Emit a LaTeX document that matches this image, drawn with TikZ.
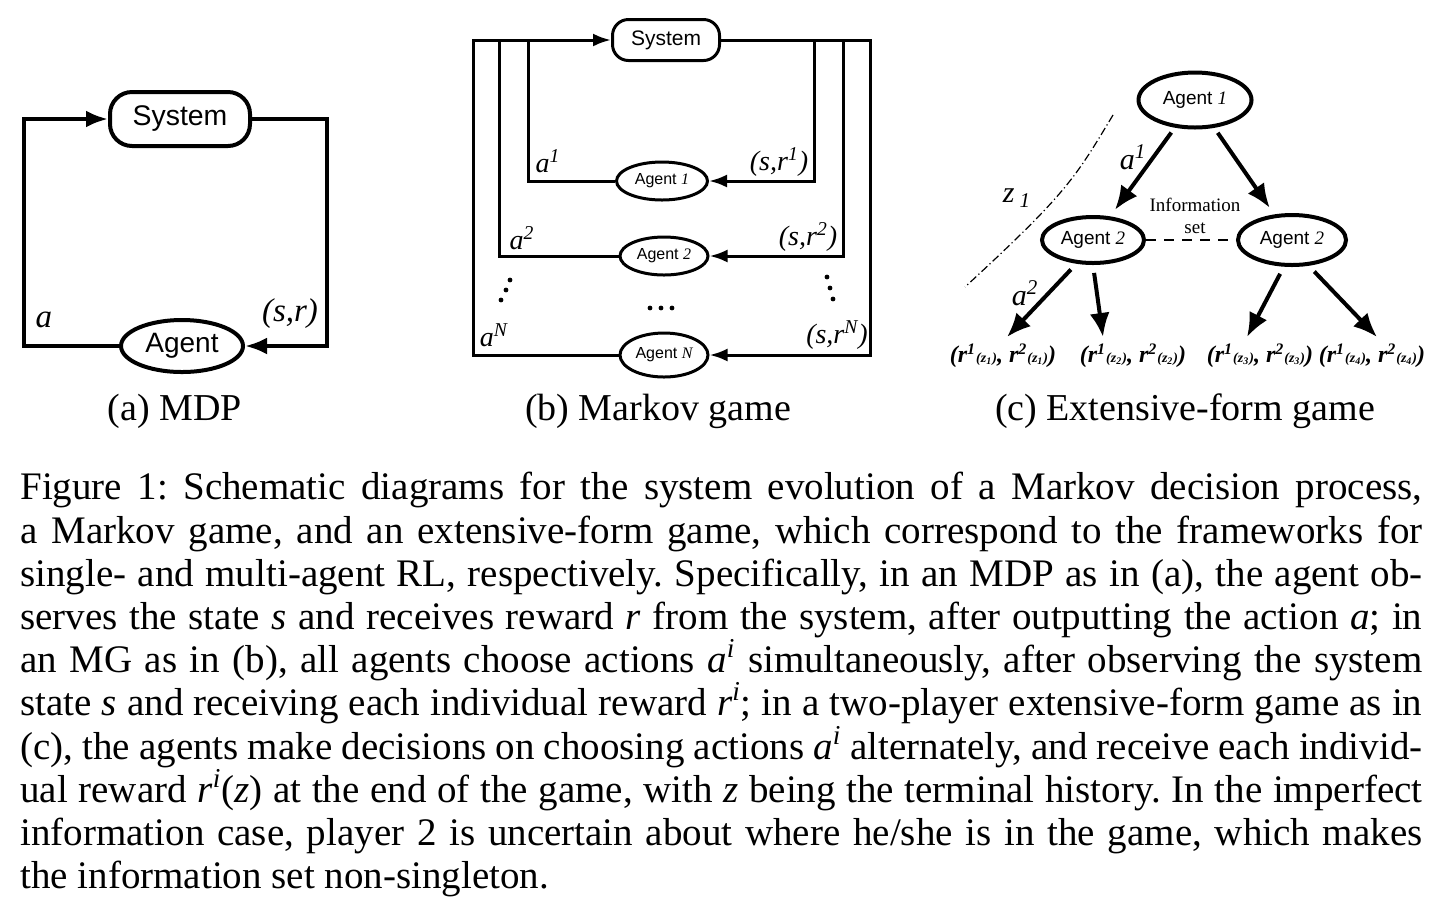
\documentclass[tikz,border=0pt]{standalone}
\usepackage{fontspec}
\setmainfont{Liberation Serif}
\setsansfont{Liberation Sans}
\usetikzlibrary{shapes.geometric, arrows.meta, positioning, calc}
\frenchspacing

\begin{document}
\begin{tikzpicture}[x=0.5pt, y=-0.5pt,
  sysbox/.style={rectangle, draw, inner sep=0pt, font=\sffamily},
  agent/.style={ellipse, draw, inner sep=0pt, font=\sffamily},
  lbl/.style={inner sep=0pt, font=\itshape},
  flowA/.style={line width=2pt, -{Latex[length=11pt, width=8.5pt]}},
  flowB/.style={line width=1.5pt, -{Latex[length=9pt, width=6.5pt]}},
  lineB/.style={line width=1.5pt},
  flowC/.style={line width=2pt, -{Latex[length=12pt, width=10pt]}},
  leaf/.style={inner xsep=0pt, inner ysep=3pt, font=\fontsize{12}{14}\selectfont\bfseries\itshape},
  subcap/.style={inner sep=0pt, font=\fontsize{19}{22}\selectfont}
]
\useasboundingbox (0,0) rectangle (1434,896);

% (a) MDP
\node[sysbox, line width=2pt, rounded corners=11pt, minimum width=70pt, minimum height=27pt,
  font=\sffamily\fontsize{14.2}{16}\selectfont] (sysa) at (180,119) {System};
\node[agent, line width=2pt, minimum width=61pt, minimum height=26pt,
  font=\sffamily\fontsize{14}{16}\selectfont] (agta) at (182,346) {Agent};
\coordinate (la) at (24,0);
\coordinate (ra) at (327,0);
\draw[flowA] (agta.west) -| (la |- sysa.west) -- (sysa.west);
\draw[flowA] (sysa.east) -| (ra |- agta.east) -- (agta.east);
\node[lbl, font=\fontsize{16.5}{18}\selectfont\itshape] (acta) at (44,320) {a};
\node[lbl, font=\fontsize{16.5}{18}\selectfont\itshape] (obsa) at (290,314) {(s,r)};
\node[subcap] (capa) at (175,411) {(a) MDP};

% (b) Markov game
\node[sysbox, line width=1.5pt, rounded corners=8pt, minimum width=53.5pt, minimum height=20.5pt,
  font=\sffamily\fontsize{10.5}{12}\selectfont] (sysb) at (666,40) {System};
\node[agent, line width=1.5pt, minimum width=45.5pt, minimum height=19pt,
  font=\sffamily\fontsize{8}{10}\selectfont] (ag1) at (662,181) {Agent {\rmfamily\itshape 1}};
\node[agent, line width=1.5pt, minimum width=44pt, minimum height=19pt,
  font=\sffamily\fontsize{8}{10}\selectfont] (ag2) at (664,256) {Agent {\rmfamily\itshape 2}};
\node[agent, line width=1.5pt, minimum width=44pt, minimum height=22pt,
  font=\sffamily\fontsize{8}{10}\selectfont] (agN) at (664,355) {Agent {\rmfamily\itshape N}};
\coordinate (l1) at (528,0);
\coordinate (l2) at (499,0);
\coordinate (lN) at (473,0);
\coordinate (r1) at (814,0);
\coordinate (r2) at (843,0);
\coordinate (rN) at (870,0);
\draw[flowB] (agN.west) -| (lN |- sysb.west) -- (sysb.west);
\draw[lineB] (ag2.west) -| (l2 |- sysb.west);
\draw[lineB] (ag1.west) -| (l1 |- sysb.west);
\draw[flowB] (sysb.east) -| (rN |- agN.east) -- (agN.east);
\draw[flowB] (r2 |- sysb.east) |- (ag2.east);
\draw[flowB] (r1 |- sysb.east) |- (ag1.east);
\node[lbl, font=\fontsize{14}{16}\selectfont\itshape] (act1) at (548,161) {a\textsuperscript{1}};
\node[lbl, font=\fontsize{14}{16}\selectfont\itshape] (obs1) at (779,162) {(s,r\textsuperscript{1})};
\node[lbl, font=\fontsize{14}{16}\selectfont\itshape] (act2) at (522,238) {a\textsuperscript{2}};
\node[lbl, font=\fontsize{14}{16}\selectfont\itshape] (obs2) at (808,237) {(s,r\textsuperscript{2})};
\node[lbl, font=\fontsize{14}{16}\selectfont\itshape] (actN) at (494,335) {a\textsuperscript{N}};
\node[lbl, font=\fontsize{14}{16}\selectfont\itshape] (obsN) at (837,335) {(s,r\textsuperscript{N})};
% dots
\fill (510,280) circle (1.2pt) (506,290) circle (1.2pt) (501,300) circle (1.2pt);
\fill (827,277) circle (1.2pt) (830,288) circle (1.2pt) (833,299) circle (1.2pt);
\fill (650,308) circle (1.2pt) (661,308) circle (1.2pt) (672,308) circle (1.2pt);
\node[subcap] (capb) at (658,411) {(b) Markov game};

% (c) Extensive-form game
\node[agent, line width=2pt, minimum width=56.5pt, minimum height=27.5pt,
  font=\sffamily\fontsize{9.5}{11}\selectfont] (ag1c) at (1195,100) {Agent {\rmfamily\itshape 1}};
\node[agent, line width=2pt, minimum width=51pt, minimum height=23pt,
  font=\sffamily\fontsize{9.5}{11}\selectfont] (ag2l) at (1093,240) {Agent {\rmfamily\itshape 2}};
\node[agent, line width=2pt, minimum width=54pt, minimum height=25pt,
  font=\sffamily\fontsize{9.5}{11}\selectfont] (ag2r) at (1292,240) {Agent {\rmfamily\itshape 2}};
\node[leaf, anchor=north] (leaf1) at (1003,337) {(r\textsuperscript{1}{\scriptsize(z\textsubscript{1})}, r\textsuperscript{2}{\scriptsize(z\textsubscript{1})})};
\node[leaf, anchor=north] (leaf2) at (1133,337) {(r\textsuperscript{1}{\scriptsize(z\textsubscript{2})}, r\textsuperscript{2}{\scriptsize(z\textsubscript{2})})};
\node[leaf, anchor=north] (leaf3) at (1260,337) {(r\textsuperscript{1}{\scriptsize(z\textsubscript{3})}, r\textsuperscript{2}{\scriptsize(z\textsubscript{3})})};
\node[leaf, anchor=north] (leaf4) at (1372,337) {(r\textsuperscript{1}{\scriptsize(z\textsubscript{4})}, r\textsuperscript{2}{\scriptsize(z\textsubscript{4})})};
\draw[flowC, shorten <=3pt, shorten >=4pt] (ag1c) -- (ag2l);
\draw[flowC, shorten <=3pt, shorten >=4pt] (ag1c) -- (ag2r);
\draw[line width=1.2pt, dash pattern=on 5pt off 4pt] (ag2l) -- (ag2r);
\draw[flowC, shorten <=4pt] (ag2l.235) -- ([xshift=2pt]leaf1.north);
\draw[flowC, shorten <=4pt] (ag2l.south) -- ([xshift=-15pt]leaf2.north);
\draw[flowC, shorten <=4pt] (ag2r.253) -- ([xshift=-6.5pt]leaf3.north);
\draw[flowC, shorten <=4pt] (ag2r.303) -- ([xshift=2.5pt]leaf4.north);
\node[inner sep=0pt, align=center, font=\fontsize{9.5}{11}\selectfont] (infoset) at (1195,216) {Information\\set};
\node[lbl, font=\fontsize{15}{17}\selectfont\itshape] (actc1) at (1133,157) {a\textsuperscript{1}};
\node[lbl, font=\fontsize{15}{17}\selectfont\itshape] (actc2) at (1025,293) {a\textsuperscript{2}};
\node[lbl, font=\fontsize{15}{17}\selectfont\itshape] (hist) at (1017,198) {z\,\textsubscript{1}};
\draw[line width=0.6pt, dash pattern=on 4pt off 1.5pt on 0.6pt off 1.5pt]
  (1113,115) .. controls (1075,178) and (1068,192) .. (965,287);
\node[subcap] (capc) at (1185,411) {(c) Extensive-form game};

% caption
\node[anchor=north west, inner sep=0pt, text width=701pt, align=justify,
  font=\fontsize{19.5}{21.6}\selectfont] (caption) at (20,472) {%
Figure 1: Schematic diagrams for the system evolution of a Markov decision process,\linebreak
a Markov game, and an extensive-form game, which correspond to the frameworks for\linebreak
single- and multi-agent RL, respectively. Specifically, in an MDP as in (a), the agent ob-\linebreak
serves the state \textit{s} and receives reward \textit{r} from the system, after outputting the action \textit{a}; in\linebreak
an MG as in (b), all agents choose actions \textit{a}\textsuperscript{\textit{i}} simultaneously, after observing the system\linebreak
state \textit{s} and receiving each individual reward \textit{r}\textsuperscript{\textit{i}}; in a two-player extensive-form game as in\linebreak
(c), the agents make decisions on choosing actions \textit{a}\textsuperscript{\textit{i}} alternately, and receive each individ-\linebreak
ual reward \textit{r}\textsuperscript{\textit{i}}(\textit{z}) at the end of the game, with \textit{z} being the terminal history. In the imperfect\linebreak
information case, player 2 is uncertain about where he/she is in the game, which makes\linebreak
the information set non-singleton.};

\end{tikzpicture}
\end{document}
